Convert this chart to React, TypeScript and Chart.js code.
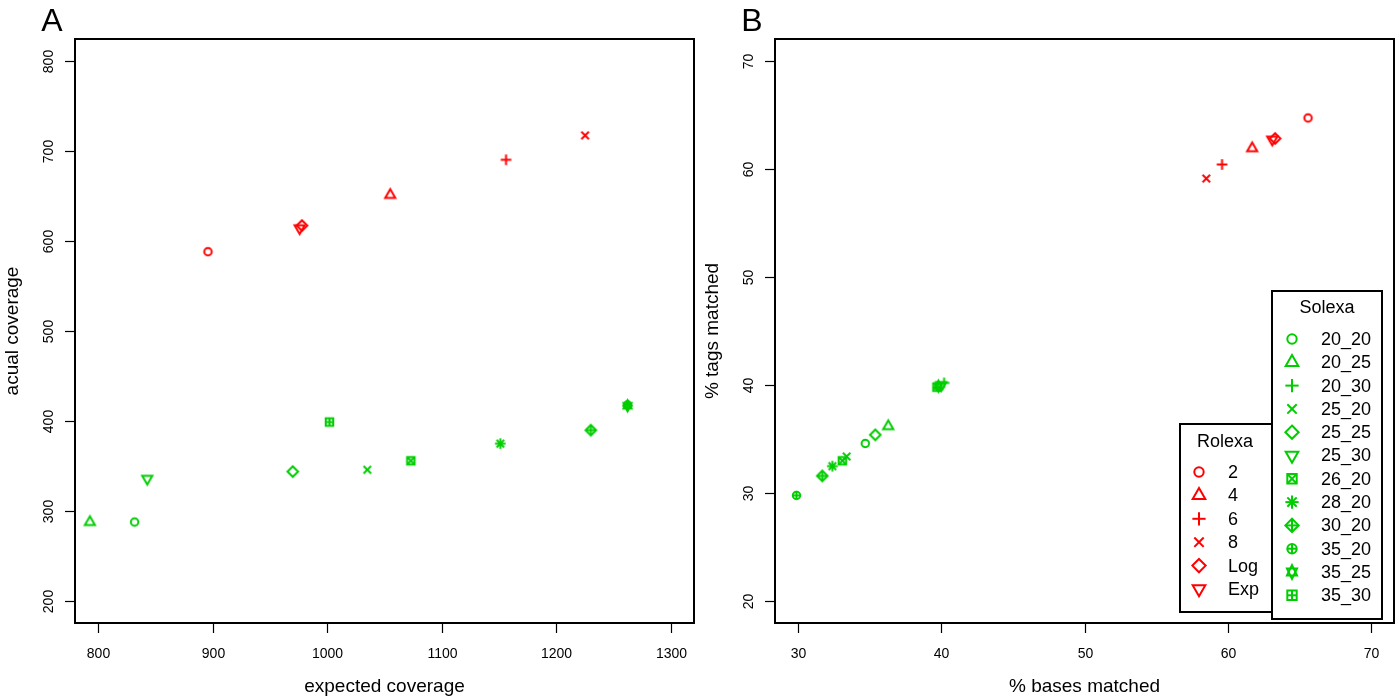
import { useEffect, useRef } from "react";
import { Chart, registerables } from "chart.js";

Chart.register(...registerables);

const RED = "#FF0000";
const GREEN = "#00CD00";
const FONT = '"Liberation Sans", Arial, sans-serif';

// groups / series names
const rolexaLabels = ["2", "4", "6", "8", "Log", "Exp"];
const solexaLabels = [
  "20_20", "20_25", "20_30", "25_20", "25_25", "25_30",
  "26_20", "28_20", "30_20", "35_20", "35_25", "35_30",
];

// panel A: expected vs actual coverage
const rolexaExpected = [896, 1055, 1156, 1225, 978, 976];
const rolexaActual = [588, 651, 690, 717, 617, 614];
const solexaExpected = [832, 793, 1262, 1035, 970, 843, 1073, 1151, 1230, 1262, 1262, 1002];
const solexaActual = [288, 288, 417, 346, 344, 336, 356, 375, 390, 418, 417, 399];

// panel B: % bases matched vs % tags matched
const rolexaBases = [65.6, 61.7, 59.6, 58.5, 63.3, 63.1];
const rolexaTags = [64.7, 61.9, 60.4, 59.1, 62.8, 62.7];
const solexaBases = [34.7, 36.3, 40.2, 33.4, 35.4, 40.0, 33.1, 32.4, 31.7, 29.9, 39.8, 39.7];
const solexaTags = [34.6, 36.2, 40.2, 33.4, 35.4, 40.0, 33.0, 32.5, 31.6, 29.8, 39.9, 39.8];

// tick labels
const expectedTicks = [800, 900, 1000, 1100, 1200, 1300];
const coverageTicks = [200, 300, 400, 500, 600, 700, 800];
const basesTicks = [30, 40, 50, 60, 70];
const tagsTicks = [20, 30, 40, 50, 60, 70];

// R plotting symbols per group
const rolexaPch = [1, 2, 3, 4, 5, 6];
const solexaPch = [1, 2, 3, 4, 5, 6, 7, 8, 9, 10, 11, 12];

function drawPch(
  ctx: CanvasRenderingContext2D,
  pch: number,
  cx: number,
  cy: number,
  size: number,
  color: string,
  lw: number
) {
  const R = 0.375 * size;
  const S2 = Math.SQRT2 * R;
  ctx.save();
  ctx.strokeStyle = color;
  ctx.lineWidth = lw;
  ctx.lineJoin = "miter";
  const line = (x1: number, y1: number, x2: number, y2: number) => {
    ctx.beginPath();
    ctx.moveTo(cx + x1, cy + y1);
    ctx.lineTo(cx + x2, cy + y2);
    ctx.stroke();
  };
  const poly = (pts: number[][]) => {
    ctx.beginPath();
    pts.forEach(([x, y], i) => (i ? ctx.lineTo(cx + x, cy + y) : ctx.moveTo(cx + x, cy + y)));
    ctx.closePath();
    ctx.stroke();
  };
  const circle = (r: number) => {
    ctx.beginPath();
    ctx.arc(cx, cy, r, 0, Math.PI * 2);
    ctx.stroke();
  };
  const tr = 1.5551 * R;
  const txc = 0.866 * tr;
  const tyc = 0.5 * tr;
  switch (pch) {
    case 1:
      circle(R);
      break;
    case 2:
      poly([[0, -tr], [txc, tyc], [-txc, tyc]]);
      break;
    case 3:
      line(-S2, 0, S2, 0);
      line(0, -S2, 0, S2);
      break;
    case 4:
      line(-R, -R, R, R);
      line(-R, R, R, -R);
      break;
    case 5:
      poly([[0, -S2], [S2, 0], [0, S2], [-S2, 0]]);
      break;
    case 6:
      poly([[0, tr], [txc, -tyc], [-txc, -tyc]]);
      break;
    case 7:
      poly([[-R, -R], [R, -R], [R, R], [-R, R]]);
      line(-R, -R, R, R);
      line(-R, R, R, -R);
      break;
    case 8:
      line(-S2, 0, S2, 0);
      line(0, -S2, 0, S2);
      line(-R, -R, R, R);
      line(-R, R, R, -R);
      break;
    case 9:
      poly([[0, -S2], [S2, 0], [0, S2], [-S2, 0]]);
      line(-S2, 0, S2, 0);
      line(0, -S2, 0, S2);
      break;
    case 10:
      circle(R);
      line(-R, 0, R, 0);
      line(0, -R, 0, R);
      break;
    case 11: {
      const h = 0.95 * tr;
      const w = 0.8 * txc;
      poly([[0, -h], [w, h * 0.5], [-w, h * 0.5]]);
      poly([[0, h], [w, -h * 0.5], [-w, -h * 0.5]]);
      break;
    }
    case 12:
      poly([[-R, -R], [R, -R], [R, R], [-R, R]]);
      line(-R, 0, R, 0);
      line(0, -R, 0, R);
      break;
  }
  ctx.restore();
}

function markerCanvas(pch: number, color: string, size: number) {
  const dim = Math.ceil(0.375 * size * 4.4) + 4;
  const c = document.createElement("canvas");
  c.width = dim;
  c.height = dim;
  const ctx = c.getContext("2d");
  if (ctx) drawPch(ctx, pch, dim / 2, dim / 2, size, color, 2);
  return c;
}

interface Group {
  labels: string[];
  xs: number[];
  ys: number[];
  pch: number[];
  color: string;
}

interface LegendBox {
  title: string;
  group: number;
  left: number;
  top: number;
  right: number;
  bottom: number;
  titleX: number;
  titleY: number;
  symbolX: number;
  textX: number;
  rowY: number;
  rowStep: number;
}

interface PanelProps {
  letter: string;
  xTitle: string;
  yTitle: string;
  xRange: [number, number];
  yRange: [number, number];
  xTicks: number[];
  yTicks: number[];
  groups: Group[];
  legends: LegendBox[];
}

const Panel = ({ letter, xTitle, yTitle, xRange, yRange, xTicks, yTicks, groups, legends }: PanelProps) => {
  const chartRef = useRef<HTMLCanvasElement>(null);
  const chartInstance = useRef<Chart | null>(null);

  useEffect(() => {
    if (!chartRef.current) return;
    if (chartInstance.current) chartInstance.current.destroy();

    const datasets: any[] = [];
    groups.forEach((g) => {
      g.labels.forEach((lab, i) => {
        datasets.push({
          label: lab,
          data: [{ x: g.xs[i], y: g.ys[i] }],
          pointStyle: markerCanvas(g.pch[i], g.color, 10),
          pointRadius: 5,
          showLine: false,
        });
      });
    });

    const framePlugin = {
      id: "rFrame",
      afterDraw(chart: Chart) {
        const { ctx, chartArea: a, scales } = chart;
        ctx.save();
        ctx.fillStyle = "#000";
        ctx.strokeStyle = "#000";
        ctx.lineWidth = 2;
        ctx.strokeRect(a.left, a.top, a.right - a.left, a.bottom - a.top);

        ctx.lineWidth = 1.2;
        ctx.font = `14px ${FONT}`;
        ctx.textAlign = "center";
        ctx.textBaseline = "middle";
        xTicks.forEach((v) => {
          const px = Math.round(scales.x.getPixelForValue(v)) + 0.5;
          ctx.beginPath();
          ctx.moveTo(px, a.bottom);
          ctx.lineTo(px, a.bottom + 10);
          ctx.stroke();
          ctx.fillText(String(v), px, 654);
        });
        yTicks.forEach((v) => {
          const py = Math.round(scales.y.getPixelForValue(v)) + 0.5;
          ctx.beginPath();
          ctx.moveTo(a.left - 10, py);
          ctx.lineTo(a.left, py);
          ctx.stroke();
          ctx.save();
          ctx.translate(49, py);
          ctx.rotate(-Math.PI / 2);
          ctx.fillText(String(v), 0, 0);
          ctx.restore();
        });

        ctx.font = `19px ${FONT}`;
        ctx.fillText(xTitle, (a.left + a.right) / 2, 687);
        ctx.save();
        ctx.translate(13, (a.top + a.bottom) / 2);
        ctx.rotate(-Math.PI / 2);
        ctx.fillText(yTitle, 0, 0);
        ctx.restore();

        ctx.font = `32px ${FONT}`;
        ctx.fillText(letter, 52, 22);

        legends.forEach((lg) => {
          const g = groups[lg.group];
          ctx.fillStyle = "#fff";
          ctx.fillRect(lg.left, lg.top, lg.right - lg.left, lg.bottom - lg.top);
          ctx.lineWidth = 2;
          ctx.strokeStyle = "#000";
          ctx.strokeRect(lg.left, lg.top, lg.right - lg.left, lg.bottom - lg.top);
          ctx.fillStyle = "#000";
          ctx.font = `18px ${FONT}`;
          ctx.textAlign = "center";
          ctx.fillText(lg.title, lg.titleX, lg.titleY);
          ctx.textAlign = "left";
          g.labels.forEach((lab, i) => {
            const y = lg.rowY + i * lg.rowStep;
            drawPch(ctx, g.pch[i], lg.symbolX, y, 12.5, g.color, 2);
            ctx.fillText(lab, lg.textX, y + 1);
          });
        });
        ctx.restore();
      },
    };

    chartInstance.current = new Chart(chartRef.current, {
      type: "scatter",
      data: { datasets },
      options: {
        responsive: false,
        animation: false,
        layout: { padding: { left: 75, right: 4, top: 39, bottom: 77 } },
        scales: {
          x: { type: "linear", display: false, min: xRange[0], max: xRange[1] },
          y: { type: "linear", display: false, min: yRange[0], max: yRange[1] },
        },
        plugins: {
          legend: { display: false },
          tooltip: { enabled: false },
        },
      },
      plugins: [framePlugin],
    });

    return () => {
      if (chartInstance.current) {
        chartInstance.current.destroy();
        chartInstance.current = null;
      }
    };
  }, []);

  return <canvas ref={chartRef} width={700} height={700} style={{ display: "block" }} />;
};

export default function App() {
  const solexaA: Group = { labels: solexaLabels, xs: solexaExpected, ys: solexaActual, pch: solexaPch, color: GREEN };
  const rolexaA: Group = { labels: rolexaLabels, xs: rolexaExpected, ys: rolexaActual, pch: rolexaPch, color: RED };
  const solexaB: Group = { labels: solexaLabels, xs: solexaBases, ys: solexaTags, pch: solexaPch, color: GREEN };
  const rolexaB: Group = { labels: rolexaLabels, xs: rolexaBases, ys: rolexaTags, pch: rolexaPch, color: RED };

  const legendsB: LegendBox[] = [
    {
      title: "Rolexa", group: 1,
      left: 480, top: 424, right: 590, bottom: 612,
      titleX: 525, titleY: 442, symbolX: 499, textX: 528, rowY: 472, rowStep: 23.4,
    },
    {
      title: "Solexa", group: 0,
      left: 572, top: 291, right: 682, bottom: 619,
      titleX: 627, titleY: 308, symbolX: 592, textX: 621, rowY: 339, rowStep: 23.3,
    },
  ];

  return (
    <div style={{ position: "absolute", left: 0, top: 0, width: 1400, height: 700, display: "flex", background: "#fff" }}>
      <Panel
        letter="A"
        xTitle="expected coverage"
        yTitle="acual coverage"
        xRange={[780, 1320]}
        yRange={[176, 824]}
        xTicks={expectedTicks}
        yTicks={coverageTicks}
        groups={[solexaA, rolexaA]}
        legends={[]}
      />
      <Panel
        letter="B"
        xTitle="% bases matched"
        yTitle="% tags matched"
        xRange={[28.4, 71.6]}
        yRange={[18, 72]}
        xTicks={basesTicks}
        yTicks={tagsTicks}
        groups={[solexaB, rolexaB]}
        legends={legendsB}
      />
    </div>
  );
}
